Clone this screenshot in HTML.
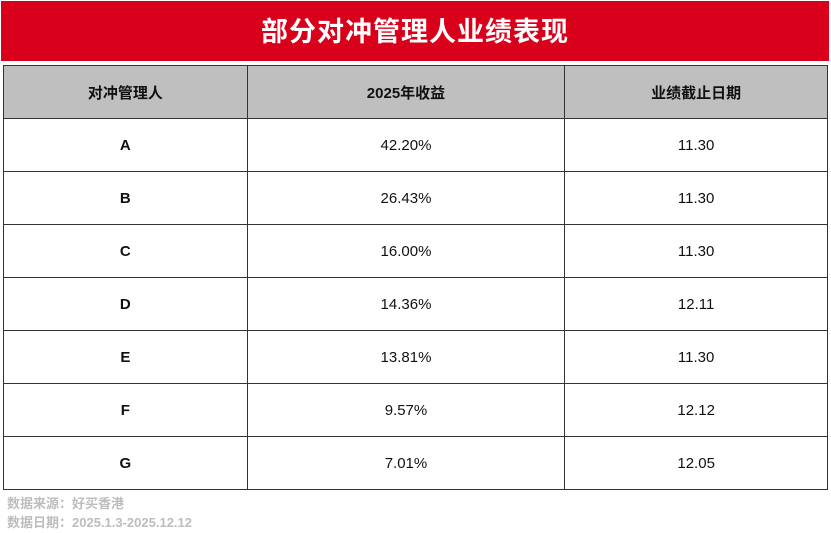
<!DOCTYPE html>
<html><head><meta charset="utf-8"><style>
body{margin:0;width:831px;height:533px;background:#fff;position:relative;overflow:hidden;font-family:"Liberation Sans","Noto Sans CJK SC",sans-serif}
.banner{position:absolute;left:1px;top:1px;width:828px;height:60px;background:#d9001b;color:#fff;font-weight:bold;font-size:27px;text-align:center;line-height:62px;letter-spacing:1px}
table{position:absolute;left:3px;top:65px;border-collapse:collapse;width:825px}
td{border:1.5px solid #333;text-align:center;height:52px;font-size:15px;color:#111;padding:0}
tr.h td{background:#bfbfbf;font-weight:bold;height:52px}
td.a{font-weight:bold}
.src{position:absolute;left:7px;font-size:13px;font-weight:bold;color:#bdbdbd}
</style></head><body>
<div class="banner">部分对冲管理人业绩表现</div>
<table>
<colgroup><col style="width:244px"><col style="width:318px"><col style="width:263px"></colgroup>
<tr class="h"><td>对冲管理人</td><td>2025年收益</td><td>业绩截止日期</td></tr>
<tr><td class="a">A</td><td>42.20%</td><td>11.30</td></tr>
<tr><td class="a">B</td><td>26.43%</td><td>11.30</td></tr>
<tr><td class="a">C</td><td>16.00%</td><td>11.30</td></tr>
<tr><td class="a">D</td><td>14.36%</td><td>12.11</td></tr>
<tr><td class="a">E</td><td>13.81%</td><td>11.30</td></tr>
<tr><td class="a">F</td><td>9.57%</td><td>12.12</td></tr>
<tr><td class="a">G</td><td>7.01%</td><td>12.05</td></tr>
</table>
<div class="src" style="top:493px">数据来源：好买香港</div>
<div class="src" style="top:512px">数据日期：2025.1.3-2025.12.12</div>
</body></html>
